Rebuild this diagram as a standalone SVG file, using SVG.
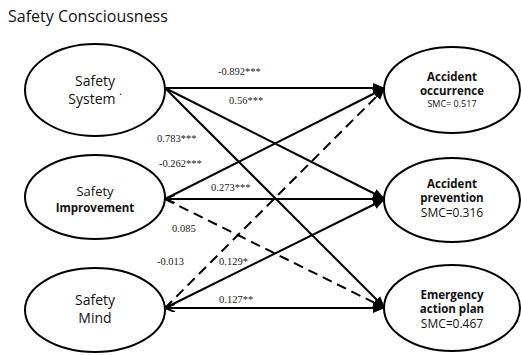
<svg xmlns="http://www.w3.org/2000/svg" width="521" height="355" viewBox="0 0 521 355">
<style>
.node ellipse{fill:#fff;stroke:#000;stroke-width:2}
.nt{font-family:"Open Sans","Noto Sans",sans-serif;fill:#111;text-anchor:middle}
.b{font-weight:bold}
.lbl{font-family:"Liberation Serif",serif;font-size:10.5px;fill:#222}
.c line{stroke:#000;stroke-width:2;fill:none}
.c .d{stroke-dasharray:10,6}
</style>
<defs>
<marker id="ah" markerUnits="userSpaceOnUse" markerWidth="12" markerHeight="10" refX="12" refY="5" orient="auto">
<path d="M0,0 L12,5 L0,10 Z" fill="#000"/>
</marker>
<marker id="as" markerUnits="userSpaceOnUse" markerWidth="10" markerHeight="8" refX="0" refY="4" orient="auto">
<path d="M10,0 L0,4 L10,8" fill="none" stroke="#000" stroke-width="2"/>
</marker>
</defs>
<rect width="521" height="355" fill="#fff"/>
<text x="8" y="22" font-family="'Open Sans','Noto Sans',sans-serif" font-size="16" fill="#111">Safety Consciousness</text>
<g class="c" id="connectors">
<line x1="165" y1="88" x2="385" y2="88" marker-end="url(#ah)"/>
<line x1="165" y1="88" x2="385" y2="199" marker-end="url(#ah)"/>
<line x1="165" y1="88" x2="385" y2="308" marker-end="url(#ah)"/>
<line x1="165" y1="199" x2="385" y2="88" marker-end="url(#ah)"/>
<line x1="165" y1="199" x2="385" y2="199" marker-end="url(#ah)" marker-start="url(#as)"/>
<line class="d" x1="165" y1="199" x2="385" y2="308" marker-end="url(#ah)"/>
<line class="d" x1="165" y1="308" x2="385" y2="88" marker-end="url(#ah)"/>
<line x1="165" y1="308" x2="385" y2="199" marker-end="url(#ah)"/>
<line x1="165" y1="308" x2="385" y2="308" marker-end="url(#ah)" marker-start="url(#as)"/>
</g>
<g id="labels">
<text class="lbl" x="218" y="75">-0.892***</text>
<text class="lbl" x="229" y="104">0.56***</text>
<text class="lbl" x="157" y="142">0.783***</text>
<text class="lbl" x="159" y="167">-0.262***</text>
<text class="lbl" x="211" y="191">0.273***</text>
<text class="lbl" x="172" y="232">0.085</text>
<text class="lbl" x="157" y="265">-0.013</text>
<text class="lbl" x="219" y="265">0.129*</text>
<text class="lbl" x="219" y="303">0.127**</text>
</g>
<g class="node" id="safety-system">
<ellipse cx="95" cy="90" rx="70" ry="46"/>
<text class="nt" font-size="14" x="95" y="86">Safety</text>
<text class="nt" font-size="14" x="95" y="104">System ˙</text>
</g>
<g class="node" id="safety-improvement">
<ellipse cx="95" cy="197" rx="70" ry="42"/>
<text class="nt" font-size="13" x="95" y="196">Safety</text>
<text class="nt b" font-size="11.5" x="95" y="212">Improvement</text>
</g>
<g class="node" id="safety-mind">
<ellipse cx="95" cy="310" rx="70" ry="42"/>
<text class="nt" font-size="14" x="95" y="305">Safety</text>
<text class="nt" font-size="14" x="95" y="323">Mind</text>
</g>
<g class="node" id="accident-occurrence">
<ellipse cx="452" cy="90" rx="68" ry="43"/>
<text class="nt b" font-size="11.5" x="452" y="81">Accident</text>
<text class="nt b" font-size="11.5" x="452" y="95">occurrence</text>
<text class="nt" font-size="9" x="452" y="107">SMC=  0.517</text>
</g>
<g class="node" id="accident-prevention">
<ellipse cx="452" cy="200" rx="68" ry="42"/>
<text class="nt b" font-size="11.5" x="452" y="188">Accident</text>
<text class="nt b" font-size="11.5" x="452" y="202">prevention</text>
<text class="nt" font-size="12" x="452" y="217">SMC=0.316</text>
</g>
<g class="node" id="emergency-action-plan">
<ellipse cx="452" cy="308" rx="68" ry="43"/>
<text class="nt b" font-size="11.5" x="452" y="299">Emergency</text>
<text class="nt b" font-size="11.5" x="452" y="313">action plan</text>
<text class="nt" font-size="12" x="452" y="328">SMC=0.467</text>
</g>
</svg>
